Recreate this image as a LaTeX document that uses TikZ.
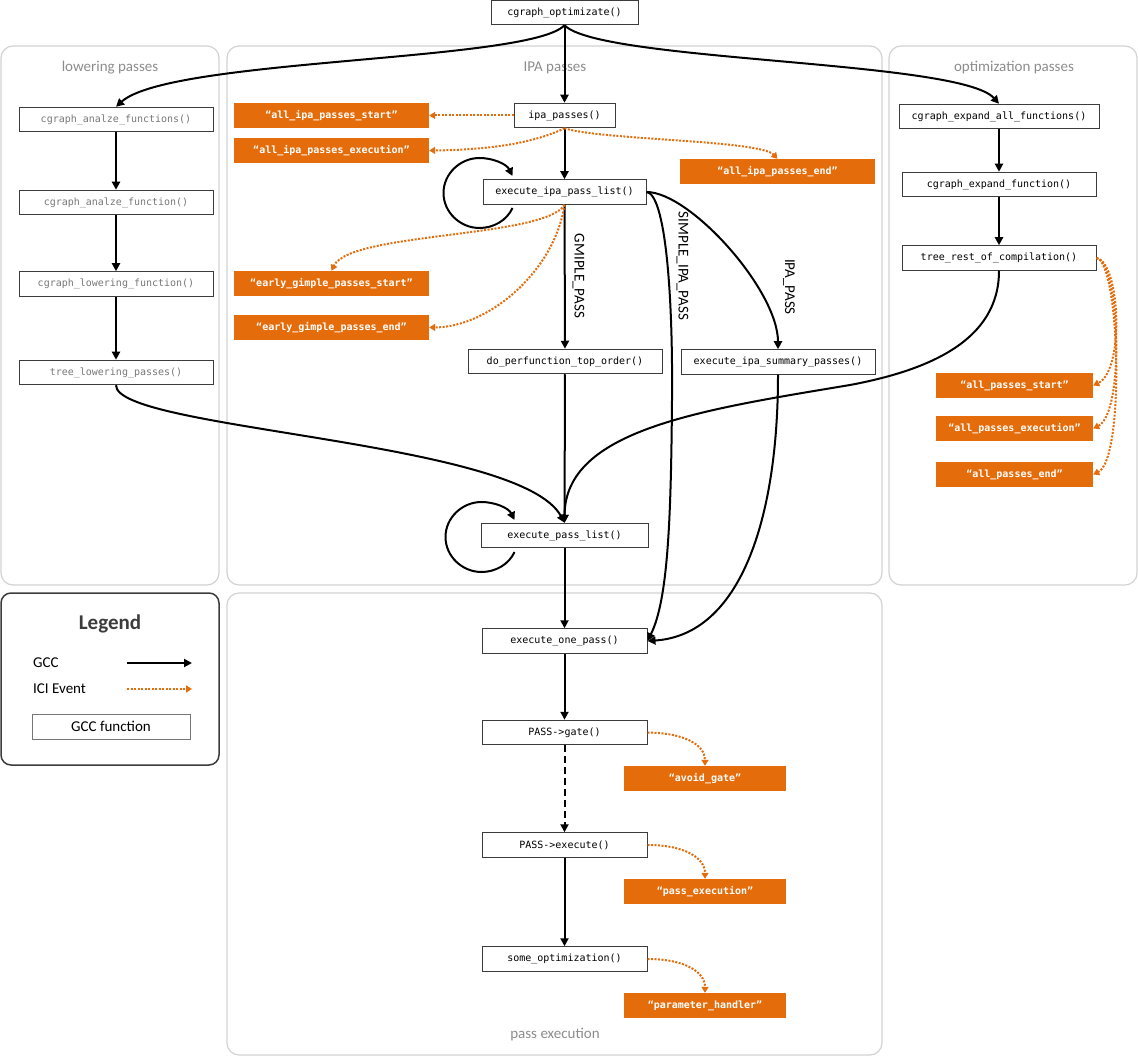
\documentclass[tikz,border=0pt]{standalone}
\usepackage{fontspec}
\setmainfont{Carlito}
\newfontfamily\monof{DejaVu Sans Mono}
\usetikzlibrary{arrows.meta,calc}
\definecolor{ici}{RGB}{228,108,10}
\definecolor{panelc}{RGB}{210,210,210}
\definecolor{titlec}{RGB}{140,140,140}
\definecolor{boxc}{RGB}{60,60,60}
\definecolor{lowc}{RGB}{120,120,120}
\begin{document}
\begin{tikzpicture}[x=1pt,y=-1pt,
 fn/.style={draw=boxc,line width=1pt,fill=white,inner sep=0pt,font=\monof\fontsize{10}{12}\selectfont,minimum height=24.5pt},
 lowfn/.style={fn,text=lowc,minimum width=194pt},
 ev/.style={fill=ici,text=white,inner sep=0pt,font=\monof\bfseries\fontsize{10}{12}\selectfont,minimum height=25pt},
 gcc/.style={line width=2pt,-{Triangle[length=8pt,width=8pt]}},
 icie/.style={draw=ici,line width=2pt,dash pattern=on 2pt off 1.5pt,-{Triangle[length=6pt,width=7pt,fill=ici]}},
 panel/.style={draw=panelc,line width=1.2pt,rounded corners=12pt},
 ptitle/.style={text=titlec,font=\fontsize{15}{18}\selectfont},
 plabel/.style={font=\fontsize{15}{18}\selectfont,rotate=-90},
 dashline/.style={dash pattern=on 7pt off 4pt}
]
\useasboundingbox (0,0) rectangle (1138,1056);
% panels
\draw[panel] (1,46) rectangle (219,585);
\draw[panel] (227,46) rectangle (882,585);
\draw[panel] (889,46) rectangle (1137,585);
\draw[panel] (227,593) rectangle (882,1055);
\node[ptitle] (tlow) at (110,68) {lowering passes};
\node[ptitle] (tipa) at (555,68) {IPA passes};
\node[ptitle] (topt) at (1014,68) {optimization passes};
\node[ptitle] (tpe) at (555,1035) {pass execution};

% legend
\draw[draw=boxc,line width=1.5pt,rounded corners=10pt] (1,593) rectangle (219,765);
\node[font=\bfseries\fontsize{21}{24}\selectfont,text=boxc] (leg) at (110,624) {Legend};
\node[anchor=west,font=\fontsize{15}{18}\selectfont,inner sep=0pt] (lgcc) at (33,663) {GCC};
\node[anchor=west,font=\fontsize{15}{18}\selectfont,inner sep=0pt] (lici) at (33,689) {ICI Event};
\coordinate (g1) at (127,663); \coordinate (g2) at (192,663);
\coordinate (i1) at (127,689); \coordinate (i2) at (192,689);
\draw[gcc] (g1) -- (g2);
\draw[icie] (i1) -- (i2);
\node[draw=boxc!70,line width=0.8pt,minimum width=158pt,minimum height=25pt,inner sep=0pt,font=\fontsize{15}{18}\selectfont] (lfn) at (111,726.5) {GCC function};

% top
\node[fn,minimum width=147pt] (opt) at (564.5,12.5) {cgraph\_optimizate()};

% lowering
\node[lowfn] (caf) at (116,119.5) {cgraph\_analze\_functions()};
\node[lowfn] (caf2) at (116,202.5) {cgraph\_analze\_function()};
\node[lowfn] (clf) at (116,284) {cgraph\_lowering\_function()};
\node[lowfn] (tlp) at (116,372.5) {tree\_lowering\_passes()};

% IPA
\node[fn,minimum width=101pt] (ipa) at (564.5,115.5) {ipa\_passes()};
\node[fn,minimum width=163pt] (eipl) at (564.5,192) {execute\_ipa\_pass\_list()};
\node[fn,minimum width=194pt] (dpto) at (565,361.5) {do\_perfunction\_top\_order()};
\node[fn,minimum width=194pt] (eisp) at (778,362) {execute\_ipa\_summary\_passes()};
\node[fn,minimum width=167pt] (epl) at (564.5,535.5) {execute\_pass\_list()};
\node[ev,minimum width=195pt] (aips) at (331.5,115.5) {“all\_ipa\_passes\_start”};
\node[ev,minimum width=195pt] (aipx) at (331.5,150.5) {“all\_ipa\_passes\_execution”};
\node[ev,minimum width=195pt] (egs) at (331.5,283.5) {“early\_gimple\_passes\_start”};
\node[ev,minimum width=195pt] (ege) at (331.5,327.5) {“early\_gimple\_passes\_end”};
\node[ev,minimum width=195pt] (aipe) at (777.5,171.5) {“all\_ipa\_passes\_end”};
\node[plabel] (lgim) at (578.5,276) {GMIPLE\_PASS};
\node[plabel] (lsim) at (682.5,266) {SIMPLE\_IPA\_PASS};
\node[plabel] (lipa) at (789,287) {IPA\_PASS};

% optimization
\node[fn,minimum width=200pt] (ceaf) at (999,116.5) {cgraph\_expand\_all\_functions()};
\node[fn,minimum width=194pt] (cef) at (999,184.5) {cgraph\_expand\_function()};
\node[fn,minimum width=194pt] (trc) at (999,258) {tree\_rest\_of\_compilation()};
\node[ev,minimum width=157pt] (aps) at (1014.5,385.5) {“all\_passes\_start”};
\node[ev,minimum width=157pt] (apx) at (1014.5,428.5) {“all\_passes\_execution”};
\node[ev,minimum width=157pt] (apend) at (1014.5,474.5) {“all\_passes\_end”};

% pass execution
\node[fn,minimum width=165pt] (eop) at (564.5,641) {execute\_one\_pass()};
\node[fn,minimum width=165pt] (gate) at (564.5,732.5) {PASS->gate()};
\node[fn,minimum width=165pt] (pexec) at (564.5,845) {PASS->execute()};
\node[fn,minimum width=165pt] (sopt) at (564.5,959) {some\_optimization()};
\node[ev,minimum width=162pt] (avoid) at (705,778.5) {“avoid\_gate”};
\node[ev,minimum width=162pt] (pxe) at (705,891.5) {“pass\_execution”};
\node[ev,minimum width=162pt] (parh) at (705,1005.5) {“parameter\_handler”};

% GCC connectors
\draw[gcc] (opt) -- (ipa);
\draw[gcc] (opt.south) .. controls (530,62) and (170,58) .. (caf.north);
\draw[gcc] (opt.south) .. controls (600,62) and (960,60) .. (ceaf.north);
\draw[gcc] (caf) -- (caf2);
\draw[gcc] (caf2) -- (clf);
\draw[gcc] (clf) -- (tlp);
\draw[gcc] (ceaf) -- (cef);
\draw[gcc] (cef) -- (trc);
\draw[gcc] (ipa) -- (eipl);
\draw[gcc] (eipl) -- (dpto);
\draw[gcc] (eipl.east) .. controls (665,194) and (673,290) .. (672,400) .. controls (671,520) and (668,600) .. (eop.east);
\draw[gcc] (eipl.east) .. controls (690,192) and (778,290) .. (eisp.north);
\draw[gcc] (dpto) -- (epl);
\draw[gcc] (tlp.south) .. controls (116,430) and (520,440) .. (epl.north);
\draw[gcc] (trc.south) .. controls (999,340) and (930,370) .. (850,385) .. controls (700,410) and (565,430) .. (epl.north);
\draw[gcc] (eisp.south) .. controls (778,520) and (740,635) .. (eop.east);
\draw[gcc] (epl) -- (eop);
\draw[gcc] (eop) -- (gate);
\draw[gcc,dashline] (gate) -- (pexec);
\draw[gcc] (pexec) -- (sopt);

% self loops
\begin{scope}[shift={(eipl.west)}]
\draw[gcc] (30,16) .. controls (24.3,28.6) and (10.8,36) .. (-3,36)
  .. controls (-22.3,36) and (-39,20.3) .. (-39,1)
  .. controls (-39,-18.3) and (-22.3,-34) .. (-3,-34)
  .. controls (10.4,-34) and (24.1,-28) .. (30,-16);
\end{scope}
\begin{scope}[shift={(epl.west)}]
\draw[gcc] (34,16.5) .. controls (28.3,29.1) and (14.8,36.5) .. (1,36.5)
  .. controls (-18.3,36.5) and (-35,20.8) .. (-35,1.5)
  .. controls (-35,-17.8) and (-18.3,-33.5) .. (1,-33.5)
  .. controls (14.4,-33.5) and (28.1,-27.5) .. (34,-15.5);
\end{scope}

% ICI events
\draw[icie] (ipa) -- (aips);
\draw[icie] (ipa.south) .. controls (530,145) and (480,150) .. (aipx.east);
\draw[icie] (ipa.south) .. controls (600,140) and (760,140) .. (aipe.north);
\draw[icie] (eipl.south) .. controls (545,238) and (350,232) .. (egs.north);
\draw[icie] (eipl.south) .. controls (555,270) and (490,327) .. (ege.east);
\draw[icie] (trc.east) .. controls (1120,262) and (1125,370) .. (aps.east);
\draw[icie] (trc.east) .. controls (1120,262) and (1125,413) .. (apx.east);
\draw[icie] (trc.east) .. controls (1120,262) and (1125,459) .. (apend.east);
\draw[icie] (gate.east) .. controls (685,733) and (705,745) .. (avoid.north);
\draw[icie] (pexec.east) .. controls (685,845) and (705,858) .. (pxe.north);
\draw[icie] (sopt.east) .. controls (685,959) and (705,972) .. (parh.north);
\end{tikzpicture}
\end{document}
